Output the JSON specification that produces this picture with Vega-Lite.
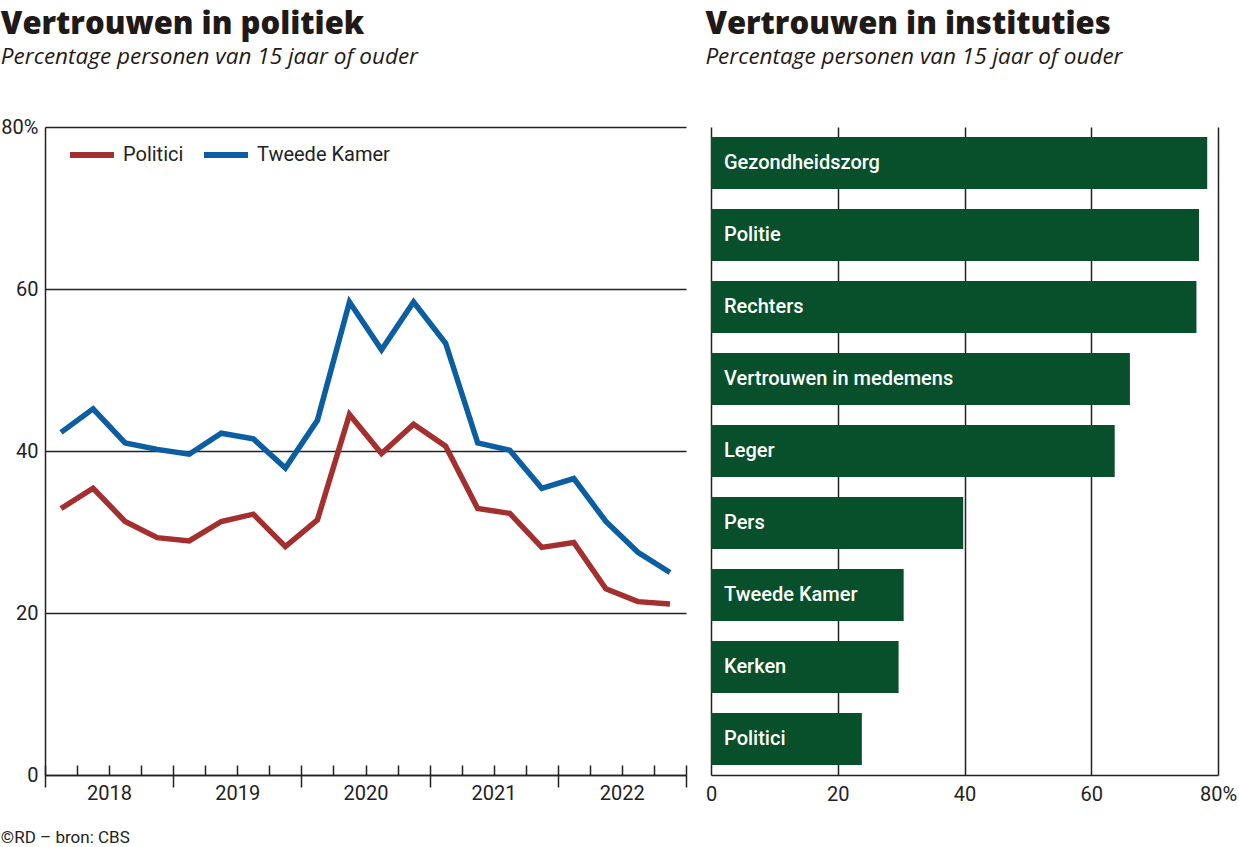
{
  "$schema": "https://vega.github.io/schema/vega-lite/v6.json",
  "padding": {"left": 0, "top": 8, "right": 0, "bottom": 0},
  "background": "white",
  "spacing": 25,
  "bounds": "flush",
  "config": {
    "view": {"stroke": null},
    "font": "Roboto",
    "axis": {"labelFont": "Roboto", "labelColor": "#222222", "labelFontSize": 20, "labelFlush": false}
  },
  "title": {
    "text": "©RD – bron: CBS",
    "orient": "bottom",
    "anchor": "start",
    "frame": "bounds",
    "font": "Roboto",
    "fontSize": 17,
    "fontWeight": "normal",
    "color": "#222222",
    "offset": 26
  },
  "hconcat": [
    {
      "width": 641,
      "height": 648,
      "title": {
        "text": "Vertrouwen in politiek",
        "subtitle": "Percentage personen van 15 jaar of ouder",
        "anchor": "start",
        "frame": "bounds",
        "font": "Open Sans",
        "fontSize": 31,
        "fontWeight": 800,
        "color": "#1f1a17",
        "subtitleFont": "Open Sans",
        "subtitleFontStyle": "italic",
        "subtitleFontSize": 22.5,
        "subtitleColor": "#1f1a17",
        "subtitlePadding": 5,
        "offset": 48
      },
      "data": {
        "values": [
          {"t": 2018.125, "reeks": "Politici", "waarde": 32.9},
          {"t": 2018.375, "reeks": "Politici", "waarde": 35.4},
          {"t": 2018.625, "reeks": "Politici", "waarde": 31.3},
          {"t": 2018.875, "reeks": "Politici", "waarde": 29.3},
          {"t": 2019.125, "reeks": "Politici", "waarde": 28.9},
          {"t": 2019.375, "reeks": "Politici", "waarde": 31.3},
          {"t": 2019.625, "reeks": "Politici", "waarde": 32.2},
          {"t": 2019.875, "reeks": "Politici", "waarde": 28.2},
          {"t": 2020.125, "reeks": "Politici", "waarde": 31.5},
          {"t": 2020.375, "reeks": "Politici", "waarde": 44.5},
          {"t": 2020.625, "reeks": "Politici", "waarde": 39.7},
          {"t": 2020.875, "reeks": "Politici", "waarde": 43.3},
          {"t": 2021.125, "reeks": "Politici", "waarde": 40.6},
          {"t": 2021.375, "reeks": "Politici", "waarde": 32.9},
          {"t": 2021.625, "reeks": "Politici", "waarde": 32.3},
          {"t": 2021.875, "reeks": "Politici", "waarde": 28.1},
          {"t": 2022.125, "reeks": "Politici", "waarde": 28.7},
          {"t": 2022.375, "reeks": "Politici", "waarde": 23.0},
          {"t": 2022.625, "reeks": "Politici", "waarde": 21.4},
          {"t": 2022.875, "reeks": "Politici", "waarde": 21.1},
          {"t": 2018.125, "reeks": "Tweede Kamer", "waarde": 42.3},
          {"t": 2018.375, "reeks": "Tweede Kamer", "waarde": 45.2},
          {"t": 2018.625, "reeks": "Tweede Kamer", "waarde": 41.0},
          {"t": 2018.875, "reeks": "Tweede Kamer", "waarde": 40.2},
          {"t": 2019.125, "reeks": "Tweede Kamer", "waarde": 39.6},
          {"t": 2019.375, "reeks": "Tweede Kamer", "waarde": 42.2},
          {"t": 2019.625, "reeks": "Tweede Kamer", "waarde": 41.5},
          {"t": 2019.875, "reeks": "Tweede Kamer", "waarde": 37.9},
          {"t": 2020.125, "reeks": "Tweede Kamer", "waarde": 43.8},
          {"t": 2020.375, "reeks": "Tweede Kamer", "waarde": 58.4},
          {"t": 2020.625, "reeks": "Tweede Kamer", "waarde": 52.5},
          {"t": 2020.875, "reeks": "Tweede Kamer", "waarde": 58.4},
          {"t": 2021.125, "reeks": "Tweede Kamer", "waarde": 53.3},
          {"t": 2021.375, "reeks": "Tweede Kamer", "waarde": 41.0},
          {"t": 2021.625, "reeks": "Tweede Kamer", "waarde": 40.1},
          {"t": 2021.875, "reeks": "Tweede Kamer", "waarde": 35.4},
          {"t": 2022.125, "reeks": "Tweede Kamer", "waarde": 36.6},
          {"t": 2022.375, "reeks": "Tweede Kamer", "waarde": 31.3},
          {"t": 2022.625, "reeks": "Tweede Kamer", "waarde": 27.5},
          {"t": 2022.875, "reeks": "Tweede Kamer", "waarde": 25.0}
        ]
      },
      "layer": [
        {
          "mark": {"type": "line", "strokeWidth": 5.5, "strokeJoin": "miter"},
          "encoding": {
            "x": {
              "field": "t",
              "type": "quantitative",
              "scale": {"domain": [2018, 2023], "nice": false, "zero": false},
              "axis": {
                "orient": "bottom",
                "title": null,
                "values": [2018, 2018.25, 2018.5, 2018.75, 2019, 2019.25, 2019.5, 2019.75, 2020, 2020.25, 2020.5, 2020.75, 2021, 2021.25, 2021.5, 2021.75, 2022, 2022.25, 2022.5, 2022.75, 2023],
                "labels": false,
                "grid": false,
                "ticks": true,
                "tickSize": -10,
                "tickWidth": 1.5,
                "tickColor": "#222222",
                "domain": true,
                "domainColor": "#222222",
                "domainWidth": 1.5
              }
            },
            "y": {
              "field": "waarde",
              "type": "quantitative",
              "scale": {"domain": [0, 80], "nice": false},
              "axis": {
                "title": null,
                "values": [0, 20, 40, 60, 80],
                "grid": true,
                "gridColor": "#222222",
                "gridWidth": 1.5,
                "ticks": false,
                "domain": true,
                "domainColor": "#222222",
                "domainWidth": 1.5,
                "labelPadding": 7,
                "labelExpr": "datum.value == 80 ? '80%' : '' + datum.value"
              }
            },
            "color": {
              "field": "reeks",
              "type": "nominal",
              "scale": {"domain": ["Politici", "Tweede Kamer"], "range": ["#a3302f", "#0b5ea1"]},
              "legend": {
                "title": null,
                "orient": "none",
                "legendX": 22,
                "legendY": 3,
                "direction": "horizontal",
                "symbolType": "stroke",
                "symbolSize": 1936,
                "symbolStrokeWidth": 6,
                "labelFont": "Roboto",
                "labelFontSize": 20,
                "labelColor": "#222222",
                "labelOffset": 6,
                "columnPadding": 8
              }
            }
          }
        },
        {
          "mark": {"type": "line", "opacity": 0},
          "encoding": {
            "x": {
              "field": "t",
              "type": "quantitative",
              "axis": {
                "orient": "bottom",
                "title": null,
                "values": [2018, 2019, 2020, 2021, 2022, 2023],
                "grid": false,
                "domain": false,
                "ticks": true,
                "tickSize": 12,
                "tickWidth": 1.5,
                "tickColor": "#222222",
                "labelOffset": 64,
                "labelPadding": -4,
                "labelExpr": "datum.value < 2023 ? '' + datum.value : ''"
              }
            },
            "y": {"field": "waarde", "type": "quantitative", "axis": null},
            "detail": {"field": "reeks"}
          }
        }
      ],
      "resolve": {"axis": {"x": "independent", "y": "independent"}}
    },
    {
      "width": 507,
      "height": 648,
      "title": {
        "text": "Vertrouwen in instituties",
        "subtitle": "Percentage personen van 15 jaar of ouder",
        "anchor": "start",
        "frame": "bounds",
        "font": "Open Sans",
        "fontSize": 31,
        "fontWeight": 800,
        "color": "#1f1a17",
        "subtitleFont": "Open Sans",
        "subtitleFontStyle": "italic",
        "subtitleFontSize": 22.5,
        "subtitleColor": "#1f1a17",
        "subtitlePadding": 5,
        "offset": 58
      },
      "data": {
        "values": [
          {"instituut": "Gezondheidszorg", "waarde": 78.3},
          {"instituut": "Politie", "waarde": 77.0},
          {"instituut": "Rechters", "waarde": 76.6},
          {"instituut": "Vertrouwen in medemens", "waarde": 66.1},
          {"instituut": "Leger", "waarde": 63.7},
          {"instituut": "Pers", "waarde": 39.8},
          {"instituut": "Tweede Kamer", "waarde": 30.4},
          {"instituut": "Kerken", "waarde": 29.6},
          {"instituut": "Politici", "waarde": 23.8}
        ]
      },
      "encoding": {
        "y": {
          "field": "instituut",
          "type": "nominal",
          "sort": null,
          "scale": {"paddingInner": 0.28, "paddingOuter": 0.14},
          "axis": null
        }
      },
      "layer": [
        {
          "mark": {"type": "bar", "color": "#07502b"},
          "encoding": {
            "x": {
              "field": "waarde",
              "type": "quantitative",
              "scale": {"domain": [0, 80], "nice": false},
              "axis": {
                "title": null,
                "values": [0, 20, 40, 60, 80],
                "grid": true,
                "gridColor": "#222222",
                "gridWidth": 1.5,
                "ticks": false,
                "domain": true,
                "domainColor": "#222222",
                "domainWidth": 1.5,
                "labelPadding": 9,
                "labelExpr": "datum.value == 80 ? '80%' : '' + datum.value"
              }
            }
          }
        },
        {
          "mark": {"type": "text", "align": "left", "baseline": "middle", "dx": 13, "color": "white", "font": "Roboto", "fontSize": 20, "fontWeight": 500},
          "encoding": {
            "x": {"datum": 0},
            "text": {"field": "instituut"}
          }
        }
      ]
    }
  ]
}
